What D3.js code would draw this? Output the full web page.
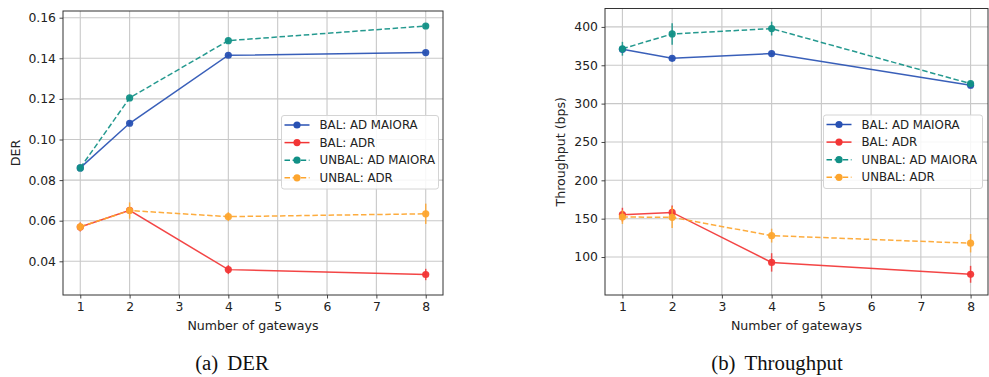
<!DOCTYPE html>
<html><head><meta charset="utf-8">
<script src="https://cdn.jsdelivr.net/npm/d3@7"></script>
<style>body{margin:0;background:#fff}svg{display:block}</style>
</head><body>
<svg id="c" width="989" height="377"></svg>
<script>
const gateways = [1, 2, 4, 8];
const xTicks = [1, 2, 3, 4, 5, 6, 7, 8];
const seriesNames = ["BAL: AD MAIORA", "BAL: ADR", "UNBAL: AD MAIORA", "UNBAL: ADR"];
const seriesColors = ["#2851b3", "#f23535", "#119086", "#fda52e"];
const seriesDashed = [false, false, true, true];

// DER panel
const derBalMaiora = [0.0860, 0.1080, 0.1415, 0.1428];
const derBalAdr = [0.0569, 0.0651, 0.0359, 0.0335];
const derUnbalMaiora = [0.0860, 0.1205, 0.1487, 0.1559];
const derUnbalAdr = [0.0570, 0.0650, 0.0620, 0.0634];
const derErrBalMaiora = [0.0010, 0.0010, 0.0008, 0.0008];
const derErrBalAdr = [0.0022, 0.0015, 0.0022, 0.0028];
const derErrUnbalMaiora = [0.0012, 0.0012, 0.0010, 0.0008];
const derErrUnbalAdr = [0.0020, 0.0040, 0.0022, 0.0050];
const derTicks = [0.04, 0.06, 0.08, 0.10, 0.12, 0.14, 0.16];

// Throughput panel
const thrBalMaiora = [370.8, 359.0, 365.2, 324.0];
const thrBalAdr = [155.2, 158.2, 93.0, 77.5];
const thrUnbalMaiora = [371.5, 390.8, 397.8, 326.0];
const thrUnbalAdr = [152.2, 151.7, 127.9, 118.0];
const thrErrBalMaiora = [4, 3, 3, 4];
const thrErrBalAdr = [9, 9, 12, 11];
const thrErrUnbalMaiora = [9, 14, 9, 4];
const thrErrUnbalAdr = [9, 14, 9, 12];
const thrTicks = [100, 150, 200, 250, 300, 350, 400];

const svg = d3.select("#c");
const FONT = "DejaVu Sans, sans-serif";

function panel(o) {
  const x = d3.scaleLinear().domain([0.65, 8.35]).range([o.x0, o.x1]);
  const y = d3.scaleLinear().domain(o.yDomain).range([o.y1, o.y0]);
  const g = svg.append("g");

  // grid
  g.selectAll(".gx").data(xTicks).enter().append("line")
    .attr("x1", d => x(d)).attr("x2", d => x(d)).attr("y1", o.y0).attr("y2", o.y1)
    .attr("stroke", "#c8c8c8").attr("stroke-width", 1.1);
  g.selectAll(".gy").data(o.yTicks).enter().append("line")
    .attr("y1", d => y(d)).attr("y2", d => y(d)).attr("x1", o.x0).attr("x2", o.x1)
    .attr("stroke", "#c8c8c8").attr("stroke-width", 1.1);

  // axes
  const xa = g.append("g").attr("transform", `translate(0,${o.y1})`)
    .call(d3.axisBottom(x).tickValues(xTicks).tickSize(3.5).tickPadding(3.5).tickFormat(d3.format("d")));
  const ya = g.append("g").attr("transform", `translate(${o.x0},0)`)
    .call(d3.axisLeft(y).tickValues(o.yTicks).tickSize(3.5).tickPadding(3.5).tickFormat(o.fmt));
  [xa, ya].forEach(a => {
    a.select(".domain").remove();
    a.selectAll("line").attr("stroke", "#333").attr("stroke-width", 0.9);
    a.selectAll("text").attr("font-family", FONT).attr("font-size", 12.4).attr("fill", "#222");
  });

  // series
  o.series.forEach((vals, i) => {
    const col = seriesColors[i];
    const pts = gateways.map((gw, k) => ({gw, v: vals[k], e: o.errs[i][k]}));
    g.append("path").datum(pts)
      .attr("d", d3.line().x(d => x(d.gw)).y(d => y(d.v)))
      .attr("fill", "none").attr("stroke", col).attr("stroke-width", 1.5)
      .attr("stroke-opacity", 0.92)
      .attr("stroke-dasharray", seriesDashed[i] ? "5.5,2.6" : null);
    g.selectAll(null).data(pts).enter().append("line")
      .attr("x1", d => x(d.gw)).attr("x2", d => x(d.gw))
      .attr("y1", d => y(d.v - d.e)).attr("y2", d => y(d.v + d.e))
      .attr("stroke", col).attr("stroke-width", 1.5).attr("stroke-opacity", 0.85);
    g.selectAll(null).data(pts).enter().append("circle")
      .attr("cx", d => x(d.gw)).attr("cy", d => y(d.v)).attr("r", 3.6)
      .attr("fill", col).attr("fill-opacity", 0.95);
  });

  // frame
  g.append("rect").attr("x", o.x0).attr("y", o.y0)
    .attr("width", o.x1 - o.x0).attr("height", o.y1 - o.y0)
    .attr("fill", "none").attr("stroke", "#333").attr("stroke-width", 1);

  // labels
  g.append("text").attr("x", (o.x0 + o.x1) / 2).attr("y", 330)
    .attr("text-anchor", "middle").attr("font-family", FONT).attr("font-size", 12.6)
    .attr("fill", "#222").text("Number of gateways");
  g.append("text").attr("transform", `translate(${o.ylabX},${(o.y0 + o.y1) / 2}) rotate(-90)`)
    .attr("text-anchor", "middle").attr("dominant-baseline", "central")
    .attr("font-family", FONT).attr("font-size", 12.6).attr("fill", "#222").text(o.ylabel);

  // legend
  const L = o.legend;
  g.append("rect").attr("x", L.x0).attr("y", L.y0).attr("width", L.x1 - L.x0).attr("height", L.y1 - L.y0)
    .attr("rx", 2.5).attr("fill", "#fff").attr("fill-opacity", 0.85)
    .attr("stroke", "#d4d4d4").attr("stroke-width", 1);
  seriesNames.forEach((name, i) => {
    const ry = L.y0 + 9.5 + i * 17.6;
    const lx = L.x0 + 3;
    g.append("line").attr("x1", lx).attr("x2", lx + 25).attr("y1", ry).attr("y2", ry)
      .attr("stroke", seriesColors[i]).attr("stroke-width", 1.5)
      .attr("stroke-dasharray", seriesDashed[i] ? "5.5,2.6" : null);
    g.append("circle").attr("cx", lx + 12.5).attr("cy", ry).attr("r", 3.6).attr("fill", seriesColors[i]);
    g.append("text").attr("x", lx + 35).attr("y", ry).attr("dominant-baseline", "central")
      .attr("font-family", FONT).attr("font-size", 11.8).attr("fill", "#222").text(name);
  });

  // caption
  const cap = svg.append("text").attr("x", o.capX).attr("y", 370).attr("text-anchor", "middle")
    .attr("font-family", "Liberation Serif, Times New Roman, serif").attr("font-size", 20.8).attr("fill", "#111");
  cap.append("tspan").text(o.capA);
  cap.append("tspan").attr("dx", 9).text(o.capB);
}

panel({
  x0: 63, x1: 443, y0: 11, y1: 295,
  yDomain: [0.0234, 0.1633], yTicks: derTicks, fmt: d3.format(".2f"),
  series: [derBalMaiora, derBalAdr, derUnbalMaiora, derUnbalAdr],
  errs: [derErrBalMaiora, derErrBalAdr, derErrUnbalMaiora, derErrUnbalAdr],
  ylabel: "DER", ylabX: 15,
  legend: {x0: 281.5, x1: 438.5, y0: 115.5, y1: 189},
  capX: 232, capA: "(a)", capB: "DER"
});
panel({
  x0: 605, x1: 988, y0: 8.5, y1: 295,
  yDomain: [50.5, 424], yTicks: thrTicks, fmt: d3.format("d"),
  series: [thrBalMaiora, thrBalAdr, thrUnbalMaiora, thrUnbalAdr],
  errs: [thrErrBalMaiora, thrErrBalAdr, thrErrUnbalMaiora, thrErrUnbalAdr],
  ylabel: "Throughput (bps)", ylabX: 560,
  legend: {x0: 823.5, x1: 982.5, y0: 115, y1: 188.5},
  capX: 777, capA: "(b)", capB: "Throughput"
});
</script>
</body></html>
